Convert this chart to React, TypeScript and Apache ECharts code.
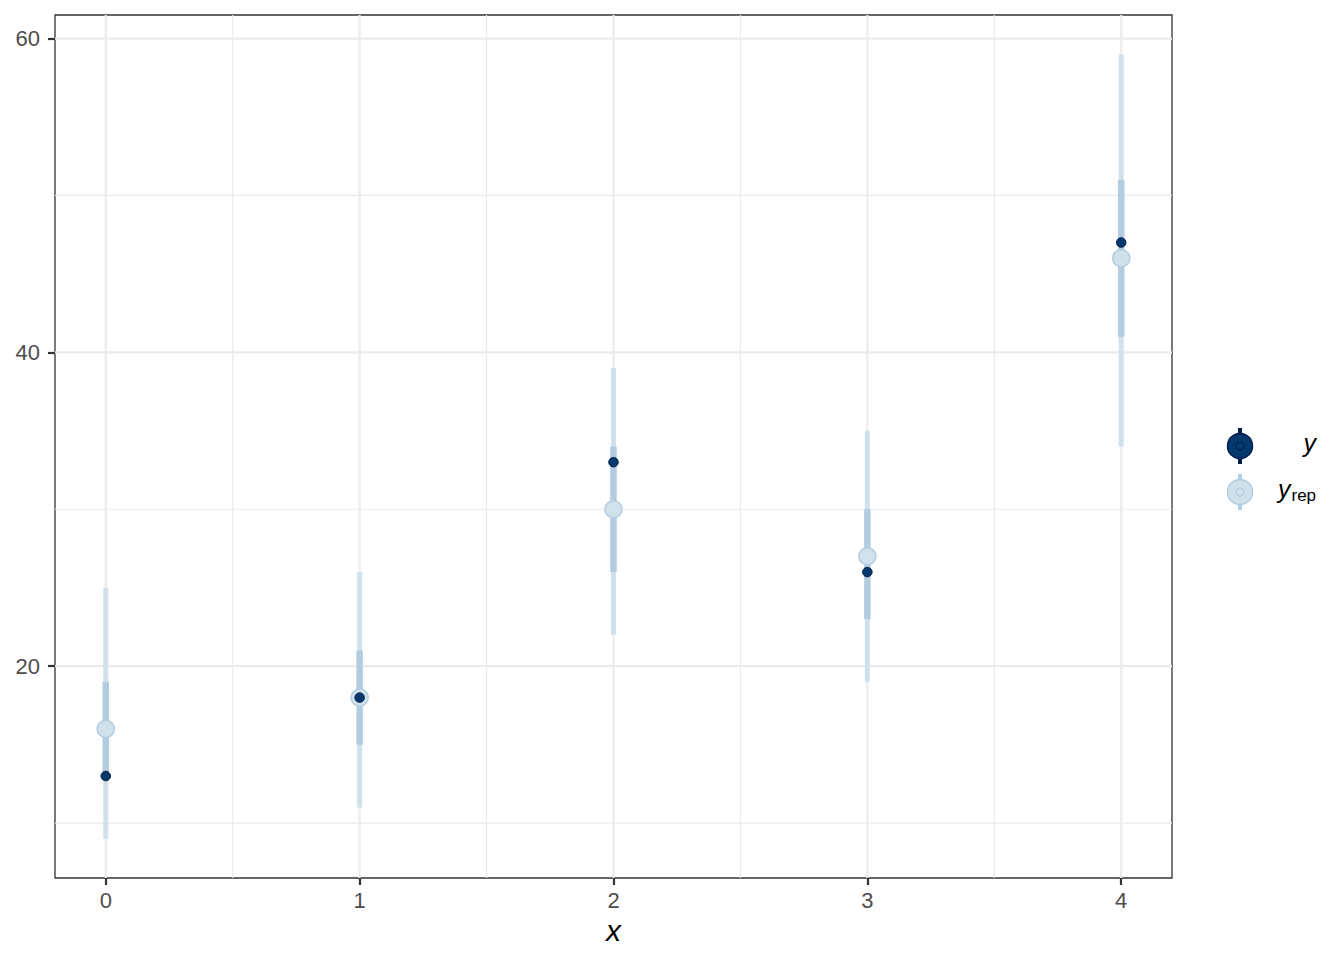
import React, { useEffect, useRef } from "react";
import * as echarts from "echarts";

const xs = [0, 1, 2, 3, 4];
const outerLo = [9, 11, 22, 19, 34];
const outerHi = [25, 26, 39, 35, 59];
const innerLo = [13, 15, 26, 23, 41];
const innerHi = [19, 21, 34, 30, 51];
const yrepMed = [16, 18, 30, 27, 46];
const yObs = [13, 18, 33, 26, 47];

const xMajor = [0, 1, 2, 3, 4];
const xMinor = [0.5, 1.5, 2.5, 3.5];
const yMajor = [20, 40, 60];
const yMinor = [10, 30, 50];

const LIGHT = "#d1e1ec";
const LIGHT_H = "#b3cde0";
const DARK = "#03396c";
const DARK_H = "#011f4b";
const FONT = "Liberation Sans, Arial, sans-serif";

export default function App() {
  const ref = useRef<HTMLDivElement>(null);
  useEffect(() => {
    if (!ref.current) return;
    const chart = echarts.init(ref.current, null, { renderer: "svg" });

    const vGrid = (width: number) => (params: any, api: any) => {
      const cs = params.coordSys;
      const px = api.coord([api.value(0), 30])[0];
      return {
        type: "line",
        shape: { x1: px, y1: cs.y, x2: px, y2: cs.y + cs.height },
        style: { stroke: "#ebebeb", lineWidth: width },
      };
    };
    const hGrid = (width: number) => (params: any, api: any) => {
      const cs = params.coordSys;
      const py = api.coord([2, api.value(0)])[1];
      return {
        type: "line",
        shape: { x1: cs.x, y1: py, x2: cs.x + cs.width, y2: py },
        style: { stroke: "#ebebeb", lineWidth: width },
      };
    };
    const interval = (color: string, width: number) => (params: any, api: any) => {
      const a = api.coord([api.value(0), api.value(1)]);
      const b = api.coord([api.value(0), api.value(2)]);
      return {
        type: "line",
        shape: { x1: a[0], y1: a[1], x2: b[0], y2: b[1] },
        style: { stroke: color, lineWidth: width },
      };
    };

    const legendItem = (cy: number, fill: string, stroke: string, lineColor: string) => ({
      type: "group",
      children: [
        { type: "line", shape: { x1: 1240, y1: cy - 18, x2: 1240, y2: cy + 18 }, style: { stroke: lineColor, lineWidth: 4 } },
        { type: "circle", shape: { cx: 1240, cy, r: 12.5 }, style: { fill, stroke, lineWidth: 1.5 } },
        { type: "circle", shape: { cx: 1240, cy, r: 4 }, style: { fill: "none", stroke, lineWidth: 1.2 } },
      ],
    });

    chart.setOption({
      animation: false,
      grid: {
        left: 55, right: 172, top: 15, bottom: 82,
        show: true, borderColor: "#333333", borderWidth: 1.3, backgroundColor: "transparent",
      },
      xAxis: {
        type: "value", min: -0.2, max: 4.2,
        name: "x", nameLocation: "middle", nameGap: 34,
        nameTextStyle: { fontFamily: FONT, fontStyle: "italic", fontSize: 30, color: "#000" },
        axisLine: { show: false, onZero: false },
        splitLine: { show: false },
        axisTick: { show: true, inside: false, customValues: xMajor, length: 7, lineStyle: { color: "#333333", width: 2.2 } },
        axisLabel: { customValues: xMajor, fontFamily: FONT, fontSize: 22, color: "#4d4d4d", margin: 11 },
      },
      yAxis: {
        type: "value", min: 6.5, max: 61.5,
        axisLine: { show: false, onZero: false },
        splitLine: { show: false },
        axisTick: { show: true, inside: false, customValues: yMajor, length: 7, lineStyle: { color: "#333333", width: 2.2 } },
        axisLabel: { customValues: yMajor, fontFamily: FONT, fontSize: 22, color: "#4d4d4d", margin: 15 },
      },
      series: [
        { type: "custom", silent: true, z: 0, data: xMinor.map((v) => [v]), renderItem: vGrid(1.2) },
        { type: "custom", silent: true, z: 0, data: yMinor.map((v) => [v]), renderItem: hGrid(1.2) },
        { type: "custom", silent: true, z: 0, data: xMajor.map((v) => [v]), renderItem: vGrid(2.2) },
        { type: "custom", silent: true, z: 0, data: yMajor.map((v) => [v]), renderItem: hGrid(2.2) },
        {
          type: "custom", name: "outer", z: 2,
          data: xs.map((x, i) => [x, outerLo[i], outerHi[i]]),
          encode: { x: 0, y: [1, 2] },
          renderItem: interval(LIGHT, 5),
        },
        {
          type: "custom", name: "inner", z: 3,
          data: xs.map((x, i) => [x, innerLo[i], innerHi[i]]),
          encode: { x: 0, y: [1, 2] },
          renderItem: interval(LIGHT_H, 6.5),
        },
        {
          type: "scatter", name: "y_rep", z: 4,
          data: xs.map((x, i) => [x, yrepMed[i]]),
          symbol: "circle", symbolSize: 17,
          itemStyle: { color: LIGHT, borderColor: LIGHT_H, borderWidth: 1.5, opacity: 1 },
        },
        {
          type: "scatter", name: "y", z: 5,
          data: xs.map((x, i) => [x, yObs[i]]),
          symbol: "circle", symbolSize: 9.5,
          itemStyle: { color: DARK, borderColor: DARK_H, borderWidth: 1, opacity: 1 },
        },
      ],
      graphic: [
        legendItem(446, DARK, DARK_H, DARK_H),
        legendItem(492, LIGHT, LIGHT_H, LIGHT_H),
        {
          type: "text", x: 1316, y: 443,
          style: { text: "y", fontFamily: FONT, fontStyle: "italic", fontSize: 25, fill: "#000", align: "right", verticalAlign: "middle" },
        },
        {
          type: "text", x: 1278, y: 489,
          style: {
            text: "{a|y}{b|rep}",
            verticalAlign: "middle",
            rich: {
              a: { fontFamily: FONT, fontStyle: "italic", fontSize: 25, fill: "#000", color: "#000" },
              b: { fontFamily: FONT, fontSize: 17, color: "#000", padding: [12, 0, 0, 1] },
            },
          },
        },
      ],
    });
    return () => chart.dispose();
  }, []);
  return <div ref={ref} style={{ width: 1344, height: 960, margin: -8 }} />;
}
